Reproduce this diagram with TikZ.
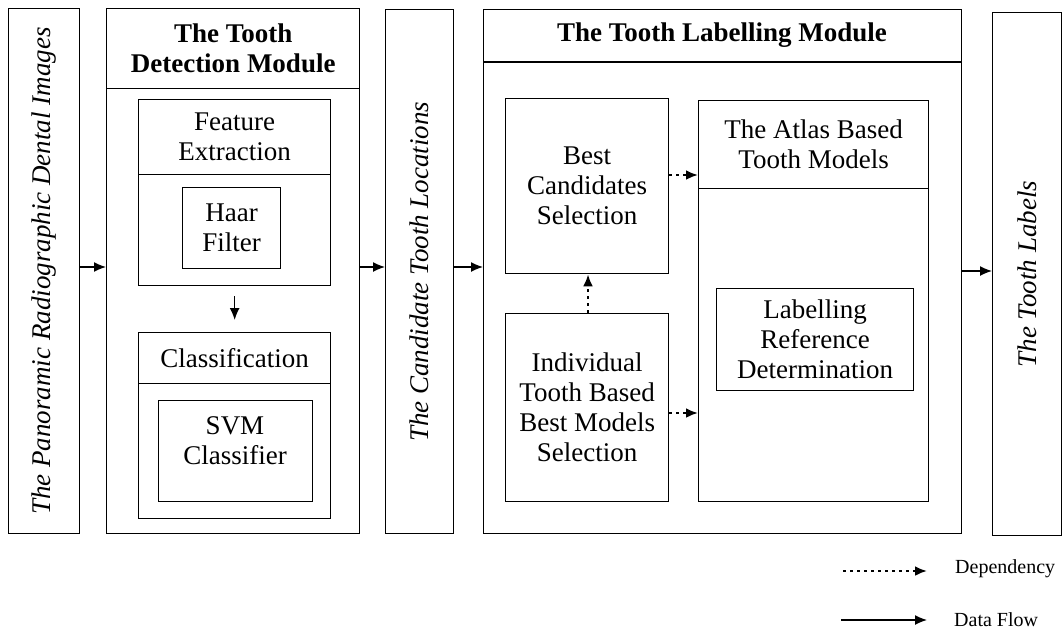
\documentclass[tikz,border=0pt]{standalone}
\usepackage{fontspec}
\setmainfont{Liberation Serif}
\usetikzlibrary{arrows.meta}
\tikzset{
  box/.style={draw, line width=1.3pt, anchor=north west, inner sep=0pt, align=center},
  txt/.style={align=center, inner sep=0pt, font=\fontsize{27}{30}\selectfont},
  vtxt/.style={inner sep=0pt, rotate=90, font=\fontsize{27}{30}\selectfont\itshape},
  flow/.style={line width=1.4pt, -{Latex[length=12pt,width=10pt]}},
  dep/.style={line width=2.6pt, dash pattern=on 2.6pt off 4.4pt, -{Latex[length=12pt,width=10pt]}},
  legtxt/.style={anchor=west, inner sep=0pt, font=\fontsize{20}{24}\selectfont}
}
\begin{document}
\begin{tikzpicture}[x=1pt,y=-1pt]
\useasboundingbox (0,0) rectangle (1062,635);
% Panoramic input
\node[box, minimum width=71pt, minimum height=525pt] (pano) at (8,8) {};
\node[vtxt] (panot) at (pano.center) {The Panoramic Radiographic Dental Images};
% Detection module
\node[box, minimum width=253pt, minimum height=525pt] (det) at (106,8) {};
\node[box, minimum width=253pt, minimum height=80pt, font=\fontsize{27}{30}\selectfont\bfseries] (dethead) at (det.north west) {The Tooth\\Detection Module};
\node[box, minimum width=192pt, minimum height=186pt] (feat) at (138,99) {};
\node[box, minimum width=192pt, minimum height=75pt, txt] (feathead) at (feat.north west) {Feature\\Extraction};
\node[box, minimum width=98pt, minimum height=81pt, txt] (haar) at (182,187) {Haar\\Filter};
\node[box, minimum width=192pt, minimum height=186pt] (cls) at (138,332) {};
\node[box, minimum width=192pt, minimum height=51pt, txt] (clshead) at (cls.north west) {Classification};
\node[box, minimum width=154pt, minimum height=101pt] (svm) at (158,400) {};
\node[txt] (svmt) at (235,441) {SVM\\Classifier};
\draw[flow] ([yshift=-10pt]feat.south) -- ([yshift=12pt]cls.north);
% Candidate locations
\node[box, minimum width=68pt, minimum height=524pt] (cand) at (385,9) {};
\node[vtxt] (candt) at (cand.center) {The Candidate Tooth Locations};
% Labelling module
\node[box, minimum width=478pt, minimum height=524pt] (lab) at (483,9) {};
\node[txt, font=\fontsize{27}{30}\selectfont\bfseries] (labt) at (722,35) {The Tooth Labelling Module};
\draw[line width=2.6pt] (lab.west |- 0,62) -- (lab.east |- 0,62);
\node[box, minimum width=163pt, minimum height=175pt, txt] (best) at (505,98) {Best\\Candidates\\Selection};
\node[box, minimum width=163pt, minimum height=188pt, txt] (indiv) at (505,313) {Individual\\Tooth Based\\Best Models\\Selection};
\node[box, minimum width=230pt, minimum height=401pt] (atlas) at (698,100) {};
\node[box, minimum width=230pt, minimum height=88pt, txt] (atlashead) at (atlas.north west) {The Atlas Based\\Tooth Models};
\node[box, minimum width=197pt, minimum height=102pt, txt] (lref) at (716,288) {Labelling\\Reference\\Determination};
\draw[dep] (indiv.north -| 588,0) -- (best.south -| 588,0);
\draw[dep] (best.east |- 0,175) -- (atlas.west |- 0,175);
\draw[dep] (indiv.east |- 0,413) -- (atlas.west |- 0,413);
% Output
\node[box, minimum width=69pt, minimum height=523pt] (out) at (992,12) {};
\node[vtxt] (outt) at (out.center) {The Tooth Labels};
% Data flow
\draw[flow] (pano.east |- 0,267) -- (det.west |- 0,267);
\draw[flow] (det.east |- 0,267) -- (cand.west |- 0,267);
\draw[flow] (cand.east |- 0,267) -- (lab.west |- 0,267);
\draw[flow] (lab.east |- 0,271) -- (out.west |- 0,271);
% Legend
\coordinate (d1) at (843,571);
\coordinate (d2) at (927,571);
\coordinate (f1) at (841,620);
\coordinate (f2) at (927,620);
\draw[dep] (d1) -- (d2);
\draw[flow] (f1) -- (f2);
\node[legtxt] (ldep) at (955,569) {Dependency};
\node[legtxt] (lflow) at (954,620) {Data Flow};
\end{tikzpicture}
\end{document}
